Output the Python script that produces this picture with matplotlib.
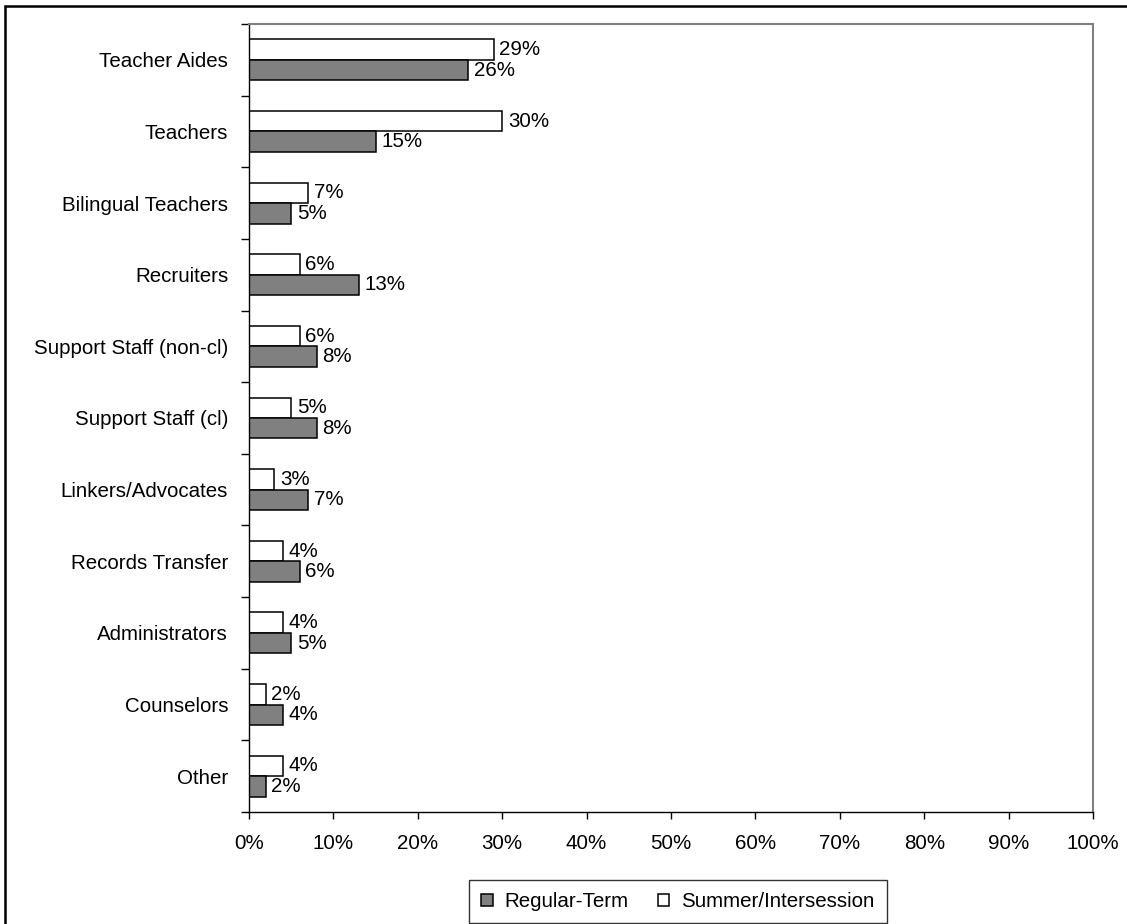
import matplotlib.pyplot as plt
from matplotlib.patches import Rectangle
from matplotlib.ticker import FixedLocator

plt.rcParams['font.family'] = ['Liberation Sans', 'DejaVu Sans']

categories = ['Teacher Aides', 'Teachers', 'Bilingual Teachers', 'Recruiters',
              'Support Staff (non-cl)', 'Support Staff (cl)', 'Linkers/Advocates',
              'Records Transfer', 'Administrators', 'Counselors', 'Other']
summer = [29, 30, 7, 6, 6, 5, 3, 4, 4, 2, 4]
regular = [26, 15, 5, 13, 8, 8, 7, 6, 5, 4, 2]
xticks = [0, 10, 20, 30, 40, 50, 60, 70, 80, 90, 100]

FS = 14.8
W, H = 1127, 924
fig = plt.figure(figsize=(W / 100, H / 100), dpi=100)
ax = fig.add_axes([249 / W, 1 - 812 / H, (1093 - 249) / W, (812 - 24) / H])

pos = list(range(len(categories)))
bh = 0.285
b1 = ax.barh([p - bh / 2 for p in pos], summer, height=bh, color='white',
             edgecolor='black', linewidth=1.1, label='Summer/Intersession')
b2 = ax.barh([p + bh / 2 for p in pos], regular, height=bh, color='#808080',
             edgecolor='black', linewidth=1.1, label='Regular-Term')

for bars, vals in ((b1, summer), (b2, regular)):
    for rect, v in zip(bars, vals):
        ax.annotate(f'{v}%', (v, rect.get_y() + rect.get_height() / 2),
                    xytext=(4, 0), textcoords='offset points',
                    va='center', ha='left', fontsize=FS)

ax.set_xlim(0, 100)
ax.set_ylim(len(categories) - 0.5, -0.5)
ax.set_xticks(xticks)
ax.set_xticklabels([f'{t}%' for t in xticks], fontsize=FS)
ax.tick_params(axis='x', direction='out', length=5, width=1, pad=11)

ax.yaxis.set_major_locator(FixedLocator([p - 0.5 for p in pos] + [len(pos) - 0.5]))
ax.yaxis.set_major_formatter(plt.NullFormatter())
ax.yaxis.set_minor_locator(FixedLocator(pos))
ax.set_yticklabels(categories, minor=True, fontsize=FS)
ax.tick_params(axis='y', which='major', direction='out', length=6, width=1)
ax.tick_params(axis='y', which='minor', length=0, pad=15)

for s in ('top', 'right'):
    ax.spines[s].set_color('#808080')
    ax.spines[s].set_linewidth(1.5)
for s in ('left', 'bottom'):
    ax.spines[s].set_color('black')
    ax.spines[s].set_linewidth(1)

leg = fig.legend([b2, b1], ['Regular-Term', 'Summer/Intersession'], ncol=2,
                 loc='center', bbox_to_anchor=(678 / W, 1 - 901.5 / H),
                 fontsize=FS, frameon=True, fancybox=False, handlelength=0.55,
                 handleheight=0.55, handletextpad=0.6, columnspacing=1.4,
                 borderpad=0.6)
leg.get_frame().set_edgecolor('black')
leg.get_frame().set_linewidth(1)

# outer border of the figure
fig.patches.append(Rectangle((5 / W, -0.1), 1.2, 1 - 6 / H + 0.1,
                             transform=fig.transFigure, fill=False,
                             edgecolor='black', linewidth=1.8))

fig.savefig('out.png', dpi=100)
